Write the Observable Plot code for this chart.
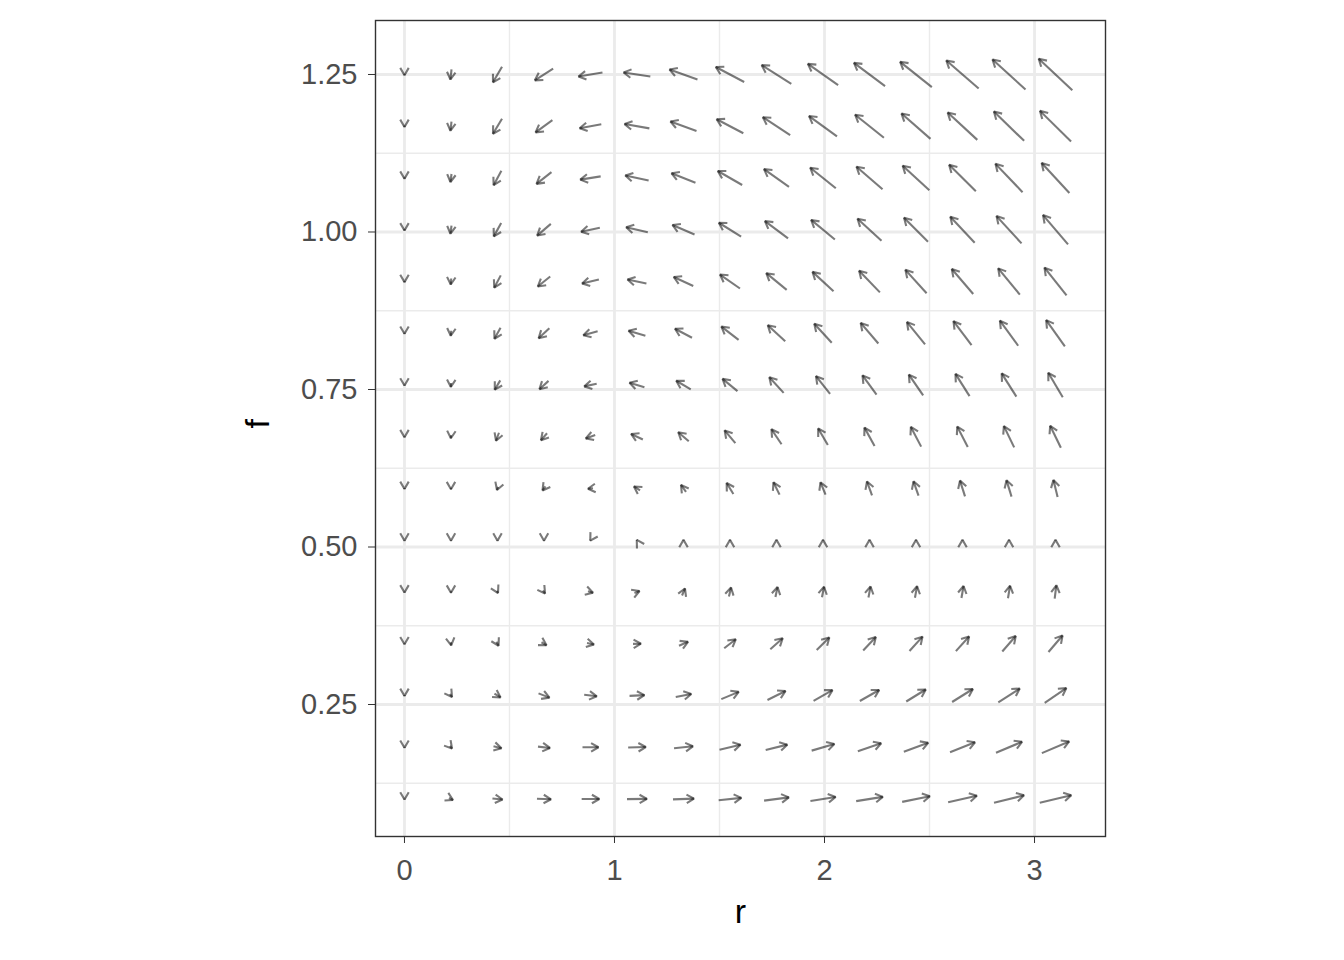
<!DOCTYPE html>
<html>
<head>
<meta charset="utf-8">
<script src="https://cdn.jsdelivr.net/npm/d3@7"></script>
<script src="https://cdn.jsdelivr.net/npm/@observablehq/plot@0.6"></script>
<style>
  body { margin: 0; background: #fff; }
  #chart svg { display: block; }
  g[aria-label^="x-axis"], g[aria-label^="y-axis"] { color: #333333; }
  g[aria-label^="x-axis"] text, g[aria-label^="y-axis"] text { fill: #4d4d4d; }
</style>
</head>
<body>
<div id="chart"></div>
<script>
// grid of arrow centres
const rValues = [0, 0.2214, 0.4429, 0.6643, 0.8857, 1.1071, 1.3286, 1.55, 1.7714, 1.9929, 2.2143, 2.4357, 2.6571, 2.8786, 3.1];
const fValues = [0.1, 0.1821, 0.2643, 0.3464, 0.4286, 0.5107, 0.5929, 0.675, 0.7571, 0.8393, 0.9214, 1.0036, 1.0857, 1.1679, 1.25];

// displayed arrow components (change in r, change in f), one array per f row, left to right
const dr_f0100 = [0, 0.019, 0.048, 0.067, 0.084, 0.095, 0.100, 0.108, 0.118, 0.120, 0.127, 0.132, 0.137, 0.143, 0.150];
const df_f0100 = [-0.0016, -0.0032, -0.0016, -0.0008, 0.0001, 0.0005, 0.0013, 0.0037, 0.0052, 0.0063, 0.0068, 0.0090, 0.0102, 0.0117, 0.0119];
const dr_f0182 = [0, 0.010, 0.038, 0.057, 0.076, 0.084, 0.090, 0.100, 0.103, 0.108, 0.111, 0.116, 0.119, 0.124, 0.130];
const df_f0182 = [-0.0016, -0.0040, -0.0032, -0.0021, 0.0001, 0.0008, 0.0032, 0.0079, 0.0084, 0.0106, 0.0127, 0.0143, 0.0159, 0.0175, 0.0186];
const dr_f0264 = [0, 0.010, 0.029, 0.052, 0.060, 0.071, 0.074, 0.083, 0.086, 0.090, 0.092, 0.093, 0.099, 0.102, 0.103];
const df_f0264 = [-0.0016, -0.0048, -0.0063, -0.0068, -0.0025, 0.0011, 0.0048, 0.0116, 0.0143, 0.0170, 0.0175, 0.0190, 0.0206, 0.0222, 0.0233];
const dr_f0346 = [0, 0.002, 0.010, 0.024, 0.033, 0.038, 0.043, 0.055, 0.059, 0.060, 0.060, 0.062, 0.063, 0.064, 0.067];
const df_f0346 = [-0.0016, -0.0048, -0.0063, -0.0048, -0.0024, 0.0002, 0.0063, 0.0143, 0.0175, 0.0200, 0.0214, 0.0227, 0.0233, 0.0246, 0.0262];
const dr_f0429 = [0, 0, 0.005, 0.010, 0.024, 0.024, 0.014, 0.010, 0.010, 0.010, 0.010, 0.010, 0.010, 0.010, 0.008];
const df_f0429 = [-0.0016, -0.0024, -0.0032, -0.0048, -0.0024, 0.0032, 0.0111, 0.0143, 0.0159, 0.0167, 0.0175, 0.0183, 0.0190, 0.0198, 0.0213];
const dr_f0511 = [0, 0, 0, 0, -0.002, -0.002, 0, 0, 0, 0, 0, 0, 0, 0, 0];
const df_f0511 = [-0.0013, -0.0013, -0.0013, -0.0013, -0.0011, 0.0011, 0.0013, 0.0013, 0.0013, 0.0013, 0.0013, 0.0013, 0.0013, 0.0013, 0.0013];
const dr_f0593 = [0, 0, -0.005, -0.014, -0.024, -0.029, -0.024, -0.032, -0.029, -0.024, -0.024, -0.024, -0.024, -0.024, -0.020];
const df_f0593 = [-0.0016, -0.0024, -0.0048, -0.0063, -0.0008, 0.0063, 0.0111, 0.0175, 0.0195, 0.0195, 0.0222, 0.0227, 0.0249, 0.0259, 0.0270];
const dr_f0675 = [0, -0.001, -0.014, -0.029, -0.045, -0.056, -0.050, -0.051, -0.048, -0.046, -0.048, -0.049, -0.050, -0.049, -0.051];
const df_f0675 = [-0.0016, -0.0048, -0.0127, -0.0111, -0.0052, 0.0089, 0.0143, 0.0202, 0.0238, 0.0263, 0.0290, 0.0313, 0.0322, 0.0338, 0.0349];
const dr_f0757 = [0, -0.001, -0.026, -0.043, -0.059, -0.071, -0.069, -0.071, -0.068, -0.067, -0.067, -0.068, -0.067, -0.070, -0.069];
const df_f0757 = [-0.0016, -0.0063, -0.0148, -0.0132, -0.0043, 0.0070, 0.0135, 0.0195, 0.0249, 0.0281, 0.0306, 0.0329, 0.0354, 0.0370, 0.0387];
const dr_f0839 = [0, -0.002, -0.029, -0.051, -0.068, -0.080, -0.081, -0.082, -0.083, -0.083, -0.084, -0.086, -0.086, -0.087, -0.089];
const df_f0839 = [-0.0019, -0.0079, -0.0175, -0.0159, -0.0063, 0.0079, 0.0143, 0.0211, 0.0254, 0.0302, 0.0327, 0.0354, 0.0381, 0.0397, 0.0417];
const dr_f0921 = [0, -0.002, -0.031, -0.059, -0.080, -0.090, -0.093, -0.095, -0.097, -0.100, -0.099, -0.101, -0.102, -0.103, -0.105];
const df_f0921 = [-0.0019, -0.0095, -0.0195, -0.0159, -0.0063, 0.0063, 0.0143, 0.0222, 0.0265, 0.0306, 0.0344, 0.0370, 0.0397, 0.0417, 0.0440];
const dr_f1004 = [0, -0.005, -0.035, -0.065, -0.089, -0.103, -0.105, -0.106, -0.110, -0.113, -0.114, -0.114, -0.116, -0.119, -0.119];
const df_f1004 = [-0.0024, -0.0127, -0.0211, -0.0186, -0.0063, 0.0079, 0.0151, 0.0222, 0.0275, 0.0311, 0.0349, 0.0381, 0.0413, 0.0433, 0.0465];
const dr_f1086 = [0, -0.005, -0.037, -0.071, -0.097, -0.111, -0.114, -0.116, -0.119, -0.122, -0.124, -0.127, -0.127, -0.129, -0.132];
const df_f1086 = [-0.0024, -0.0127, -0.0227, -0.0186, -0.0052, 0.0079, 0.0151, 0.0222, 0.0281, 0.0327, 0.0359, 0.0390, 0.0417, 0.0449, 0.0476];
const dr_f1168 = [0, -0.005, -0.043, -0.080, -0.103, -0.118, -0.124, -0.127, -0.130, -0.133, -0.137, -0.138, -0.141, -0.144, -0.148];
const df_f1168 = [-0.0024, -0.0143, -0.0238, -0.0195, -0.0063, 0.0068, 0.0151, 0.0222, 0.0286, 0.0322, 0.0365, 0.0402, 0.0433, 0.0465, 0.0487];
const dr_f1250 = [0, -0.005, -0.043, -0.087, -0.114, -0.127, -0.133, -0.135, -0.141, -0.144, -0.148, -0.151, -0.154, -0.157, -0.160];
const df_f1250 = [-0.0024, -0.0159, -0.0249, -0.0186, -0.0063, 0.0063, 0.0159, 0.0238, 0.0297, 0.0338, 0.0370, 0.0402, 0.0444, 0.0476, 0.0503];

const drRows = [dr_f0100, dr_f0182, dr_f0264, dr_f0346, dr_f0429, dr_f0511, dr_f0593, dr_f0675, dr_f0757, dr_f0839, dr_f0921, dr_f1004, dr_f1086, dr_f1168, dr_f1250];
const dfRows = [df_f0100, df_f0182, df_f0264, df_f0346, df_f0429, df_f0511, df_f0593, df_f0675, df_f0757, df_f0839, df_f0921, df_f1004, df_f1086, df_f1168, df_f1250];

// axis breaks
const xMajor = [0, 1, 2, 3];
const xMinor = [0.5, 1.5, 2.5];
const yMajor = [0.25, 0.5, 0.75, 1.0, 1.25];
const yMinor = [0.125, 0.375, 0.625, 0.875, 1.125];

const arrows = [];
fValues.forEach((f, i) => {
  rValues.forEach((r, j) => {
    const dr = drRows[i][j], df = dfRows[i][j];
    arrows.push({r, f, x1: r - dr / 2, y1: f - df / 2, x2: r + dr / 2, y2: f + df / 2});
  });
});

const fontFamily = "'Liberation Sans', Arial, Helvetica, sans-serif";

const chart = Plot.plot({
  width: 1344,
  height: 960,
  marginLeft: 375,
  marginRight: 239,
  marginTop: 20,
  marginBottom: 124,
  style: {fontFamily, fontSize: "29px", background: "#fff", color: "#000"},
  x: {domain: [-0.138, 3.338], ticks: xMajor, tickSize: 7, tickPadding: 16, tickFormat: d => String(d), label: null},
  y: {domain: [0.0405, 1.3357], ticks: yMajor, tickSize: 7, tickPadding: 11, tickFormat: d3.format(".2f"), label: null},
  marks: [
    Plot.ruleX(xMinor, {stroke: "#ebebeb", strokeWidth: 1.4}),
    Plot.ruleY(yMinor, {stroke: "#ebebeb", strokeWidth: 1.4}),
    Plot.ruleX(xMajor, {stroke: "#ebebeb", strokeWidth: 2.8}),
    Plot.ruleY(yMajor, {stroke: "#ebebeb", strokeWidth: 2.8}),
    Plot.link(arrows, {x1: "x1", y1: "y1", x2: "x2", y2: "y2", stroke: "#000", strokeOpacity: 0.52, strokeWidth: 2.1}),
    Plot.frame({stroke: "#333333", strokeWidth: 1.4}),
    Plot.text(["r"], {text: d => d, frameAnchor: "bottom", dy: 86, fontSize: 34, fill: "#000"}),
    Plot.text(["f"], {text: d => d, frameAnchor: "left", dx: -117, rotate: -90, fontSize: 34, fill: "#000"})
  ]
});

// arrowheads: drawn at the tip of each link, following its screen direction
const ns = "http://www.w3.org/2000/svg";
const linkGroup = chart.querySelector('g[aria-label="link"]');
if (linkGroup) {
  const headLen = 8.5, ang = Math.PI / 6;
  Array.from(linkGroup.querySelectorAll("path")).forEach(p => {
    const nums = (p.getAttribute("d") || "").match(/-?\d*\.?\d+(?:e-?\d+)?/g);
    if (!nums || nums.length < 4) return;
    const x1 = +nums[0], y1 = +nums[1], x2 = +nums[nums.length - 2], y2 = +nums[nums.length - 1];
    let dx = x2 - x1, dy = y2 - y1;
    const len = Math.hypot(dx, dy);
    if (len === 0) return;
    dx /= len; dy /= len;
    const w = (a) => {
      const c = Math.cos(a), s = Math.sin(a);
      const ux = dx * c - dy * s, uy = dx * s + dy * c;
      return [x2 - headLen * ux, y2 - headLen * uy];
    };
    const [ax, ay] = w(ang), [bx, by] = w(-ang);
    const h = document.createElementNS(ns, "path");
    h.setAttribute("d", `M${ax},${ay}L${x2},${y2}L${bx},${by}`);
    h.setAttribute("fill", "none");
    linkGroup.appendChild(h);
  });
}

document.getElementById("chart").appendChild(chart);
</script>
</body>
</html>
